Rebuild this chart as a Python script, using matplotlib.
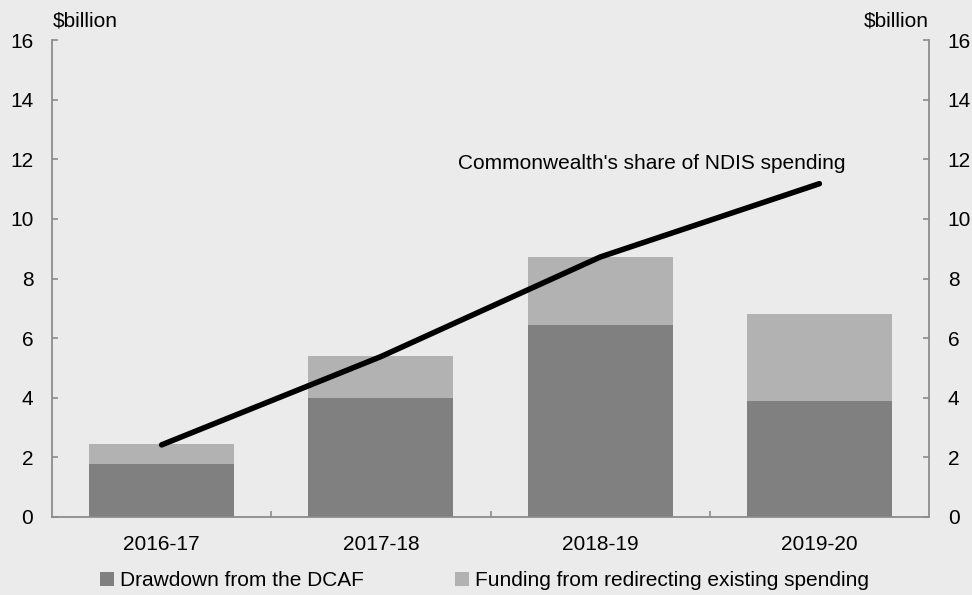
import matplotlib
matplotlib.use("Agg")
import matplotlib.pyplot as plt
import numpy as np

plt.rcParams['font.family'] = ['Liberation Sans', 'DejaVu Sans']

categories = ["2016-17", "2017-18", "2018-19", "2019-20"]
dcaf = [1.78, 3.98, 6.45, 3.9]
redirect = [0.67, 1.42, 2.28, 2.9]
commonwealth_share = [2.42, 5.38, 8.72, 11.18]
yticks = [0, 2, 4, 6, 8, 10, 12, 14, 16]

bg = "#EBEBEB"
dark = "#808080"
light = "#B2B2B2"
spine_c = "#8C8C8C"
fs = 15

fig = plt.figure(figsize=(9.72, 5.95), dpi=100, facecolor=bg)
ax = fig.add_axes([52/972, 1-517/595, 877/972, 477/595], facecolor=bg)

x = np.arange(len(categories))
w = 0.662
b1 = ax.bar(x, dcaf, width=w, color=dark, zorder=2)
b2 = ax.bar(x, redirect, width=w, bottom=dcaf, color=light, zorder=2)
ax.plot(x, commonwealth_share, color="black", lw=4, solid_capstyle="round", zorder=3)

ax.text(3.117, 11.87, "Commonwealth's share of NDIS spending", ha="right", va="center",
        fontsize=fs, color="black")

ax.set_xlim(-0.5, 3.5)
ax.set_ylim(0, 16)
ax.set_yticks(yticks)
ax.set_xticks(x)
ax.set_xticklabels(categories, fontsize=fs)
ax.set_xticks([0.5, 1.5, 2.5], minor=True)
ax.tick_params(axis="x", which="major", length=0, pad=13)
ax.tick_params(axis="x", which="minor", length=4, direction="in", color=spine_c, width=1.2)
ax.tick_params(axis="y", which="major", length=4, direction="in", color=spine_c, width=1.2,
               labelsize=fs, left=True, right=True, labelleft=True, labelright=True, pad=13.5)
for s in ["left", "right", "bottom"]:
    ax.spines[s].set_color(spine_c)
    ax.spines[s].set_linewidth(1.3)
ax.spines["top"].set_visible(False)

fig.text(53/972, 1-21/595, "$billion", fontsize=fs, ha="left", va="center")
fig.text(929/972, 1-21/595, "$billion", fontsize=fs, ha="right", va="center")

common = dict(frameon=False, fontsize=fs, handlelength=0.65, handleheight=0.65,
              handletextpad=0.3, borderpad=0, borderaxespad=0, loc="center left")
fig.legend([b1], ["Drawdown from the DCAF"], bbox_to_anchor=(100/972, 1-581/595), **common)
fig.legend([b2], ["Funding from redirecting existing spending"],
           bbox_to_anchor=(455/972, 1-581/595), **common)

fig.savefig("out.png", dpi=100, facecolor=bg)
